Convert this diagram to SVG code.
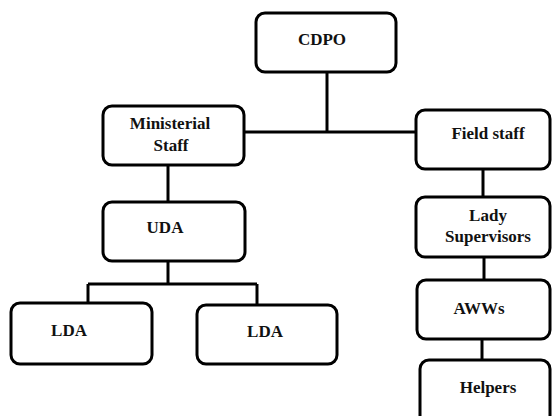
<svg xmlns="http://www.w3.org/2000/svg" width="552" height="416" viewBox="0 0 552 416">
<style>
.box{fill:#fff;stroke:#000;stroke-width:3}
.lbl{font-family:'Liberation Serif','Times New Roman','DejaVu Serif',serif;font-weight:700;font-size:17px;fill:#111;text-anchor:middle}
.con{fill:none;stroke:#000;stroke-width:3}
</style>
<rect x="0" y="0" width="552" height="416" fill="#fff"/>
<g id="connectors" class="con">
<path d="M327 72V132"/>
<path d="M244 132H416"/>
<path d="M168 165V202"/>
<path d="M483 169V197"/>
<path d="M484 257V280"/>
<path d="M482 339V360"/>
<path d="M168 261V284"/>
<path d="M88 284H257"/>
<path d="M88 284V303"/>
<path d="M257 284V305"/>
</g>
<g id="cdpo"><rect class="box" x="256" y="13" width="140" height="59" rx="9"/><text class="lbl" x="322" y="45">CDPO</text></g>
<g id="ministerial"><rect class="box" x="103" y="106" width="141" height="59" rx="9"/><text class="lbl" x="170" y="129">Ministerial</text><text class="lbl" x="171" y="151">Staff</text></g>
<g id="field"><rect class="box" x="416" y="110" width="134" height="59" rx="9"/><text class="lbl" x="488" y="139">Field staff</text></g>
<g id="uda"><rect class="box" x="103" y="202" width="142" height="59" rx="9"/><text class="lbl" x="165" y="233">UDA</text></g>
<g id="lady"><rect class="box" x="416" y="197" width="134" height="60" rx="9"/><text class="lbl" x="488" y="221">Lady</text><text class="lbl" x="488" y="242">Supervisors</text></g>
<g id="awws"><rect class="box" x="417" y="280" width="133" height="59" rx="9"/><text class="lbl" x="479" y="314">AWWs</text></g>
<g id="helpers"><rect class="box" x="420" y="360" width="130" height="70" rx="9"/><text class="lbl" x="488" y="393">Helpers</text></g>
<g id="lda1"><rect class="box" x="11" y="303" width="141" height="61" rx="9"/><text class="lbl" x="69" y="336">LDA</text></g>
<g id="lda2"><rect class="box" x="197" y="305" width="140" height="59" rx="9"/><text class="lbl" x="265" y="337">LDA</text></g>
</svg>
